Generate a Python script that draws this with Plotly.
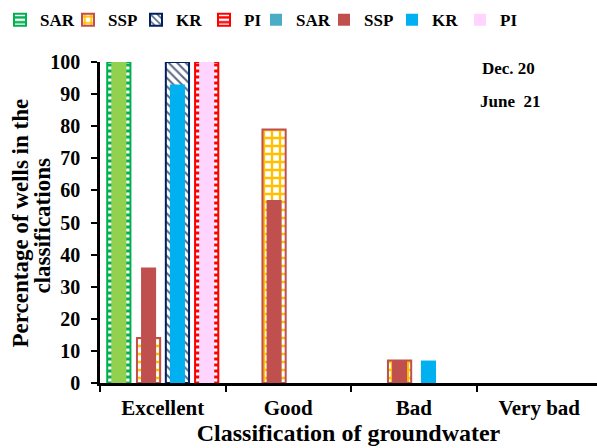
import plotly.graph_objects as go

categories = ["Excellent", "Good", "Bad", "Very bad"]
series_names = ["SAR", "SSP", "KR", "PI"]

# Dec. 20 (wide, patterned bars)
dec20_sar = [100, 0, 0, 0]
dec20_ssp = [14, 79, 7, 0]
dec20_kr = [100, 0, 0, 0]
dec20_pi = [100, 0, 0, 0]

# June 21 (narrow, solid bars)
jun21_sar = [100, 0, 0, 0]
jun21_ssp = [36, 57, 7, 0]
jun21_kr = [93, 0, 7, 0]
jun21_pi = [100, 0, 0, 0]

y_ticks = [0, 10, 20, 30, 40, 50, 60, 70, 80, 90, 100]

FONT = "Liberation Serif, Times New Roman, serif"

def nz(v):
    return [x if x else None for x in v]

centers = [-0.35, -0.113, 0.117, 0.35]
WIDE = 0.185
NARROW = 0.12

fig = go.Figure()

dec_styles = [
    dict(line="#00B050", fg="#00B050", bg="#FFFFFF", shape="-", size=6, sol=0.5),
    dict(line="#C0504D", fg="#FFC000", bg="#FFFFFF", shape="+", size=8, sol=0.5),
    dict(line="#002060", fg="#5B6B85", bg="#FFFFFF", shape="\\", size=6, sol=0.35),
    dict(line="#FF0000", fg="#FF0000", bg="#FFFFFF", shape="-", size=6, sol=0.5),
]
dec_vals = [dec20_sar, dec20_ssp, dec20_kr, dec20_pi]
for i, (vals, st) in enumerate(zip(dec_vals, dec_styles)):
    fig.add_trace(go.Bar(
        x=categories, y=nz(vals), name=series_names[i],
        width=WIDE, offset=centers[i] - WIDE / 2,
        marker=dict(color=st["bg"], line=dict(color=st["line"], width=2),
                    pattern=dict(shape=st["shape"], fgcolor=st["fg"], bgcolor=st["bg"],
                                 size=st["size"], solidity=st["sol"], fillmode="replace")),
        cliponaxis=False, legend="legend", legendrank=i + 1,
    ))

jun_colors = ["#92D050", "#C0504D", "#00B0F0", "#FFD5FF"]
legend_colors = ["#4BACC6", "#C0504D", "#00B0F0", "#FFD5FF"]
jun_vals = [jun21_sar, jun21_ssp, jun21_kr, jun21_pi]
for i, vals in enumerate(jun_vals):
    same = jun_colors[i] == legend_colors[i]
    fig.add_trace(go.Bar(
        x=categories, y=nz(vals), name=series_names[i],
        width=NARROW, offset=centers[i] - NARROW / 2,
        marker=dict(color=jun_colors[i], line=dict(width=0)),
        cliponaxis=False, showlegend=same, legend="legend2",
        legendrank=5 + i,
    ))
    if not same:
        fig.add_trace(go.Bar(
            x=categories, y=[None] * len(categories), name=series_names[i],
            marker=dict(color=legend_colors[i], line=dict(width=0)),
            legend="legend2", legendrank=5 + i,
        ))

legend_common = dict(orientation="h", xref="container", yref="container",
                     y=0.995, xanchor="left", yanchor="top",
                     entrywidth=23, entrywidthmode="pixels",
                     font=dict(size=17, family=FONT, weight="bold"),
                     itemwidth=30, traceorder="normal", bgcolor="rgba(0,0,0,0)")

fig.update_layout(
    barmode="overlay",
    width=597, height=448,
    margin=dict(l=100, r=0, t=62, b=65, autoexpand=False),
    paper_bgcolor="white", plot_bgcolor="white",
    font=dict(family=FONT, color="black", weight="bold"),
    showlegend=True,
    legend=dict(x=0.0, **legend_common),
    legend2=dict(x=0.4288, **legend_common),
    xaxis=dict(type="category", range=[-0.5, 3.46], showline=True, linewidth=2.5,
               linecolor="black", ticks="outside", tickson="boundaries",
               ticklen=6, tickwidth=2, tickcolor="black", ticklabelstandoff=4,
               tickfont=dict(size=21, family=FONT, weight="bold"),
               title=dict(text="Classification of groundwater", standoff=5,
                          font=dict(size=24, family=FONT, weight="bold")),
               showgrid=False, zeroline=False),
    yaxis=dict(range=[0, 100], tickvals=y_ticks, showline=True, linewidth=2.5,
               linecolor="black", ticks="outside", ticklen=6, tickwidth=2,
               tickcolor="black", showgrid=False, zeroline=False, ticklabelstandoff=7,
               tickfont=dict(size=20, family=FONT, weight="bold")),
    annotations=[
        dict(text="Percentage of wells in the", x=-0.159, y=0.5, xref="paper", yref="paper",
             xanchor="center", yanchor="middle", textangle=-90, showarrow=False,
             font=dict(size=23, family=FONT, weight="bold")),
        dict(text="classifications", x=-0.115, y=0.49, xref="paper", yref="paper",
             xanchor="center", yanchor="middle", textangle=-90, showarrow=False,
             font=dict(size=23, family=FONT, weight="bold")),
        dict(text="Dec. 20", x=0.764, y=0.981, xref="paper", yref="paper",
             xanchor="left", yanchor="middle", showarrow=False,
             font=dict(size=17, family=FONT, weight="bold")),
        dict(text="June  21", x=0.76, y=0.878, xref="paper", yref="paper",
             xanchor="left", yanchor="middle", showarrow=False,
             font=dict(size=17, family=FONT, weight="bold")),
    ],
)

fig.write_html("out.html", config={"displayModeBar": False},
               post_script="document.body.style.margin='0';document.body.style.padding='0';")
